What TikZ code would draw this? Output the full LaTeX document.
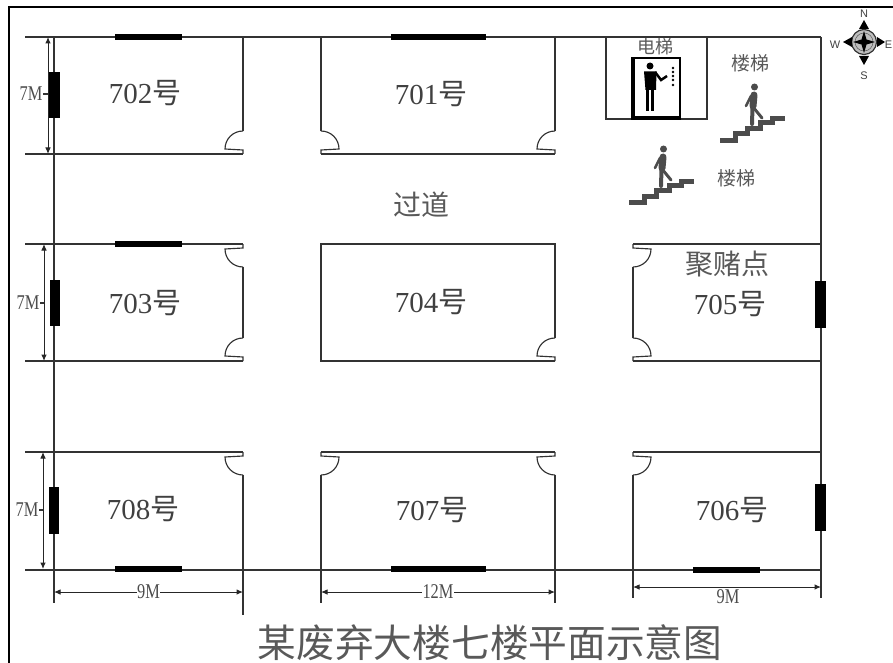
\documentclass[tikz,border=0pt]{standalone}
\usepackage{fontspec}
\usetikzlibrary{arrows.meta}
\setmainfont{Liberation Serif}
\setsansfont{Liberation Sans}
\newfontfamily\cjk{Noto Sans CJK SC}
\newcommand{\narrowtext}[1]{\scalebox{0.78}[1]{#1}}
\tikzset{
    wall/.style={line width=1.15pt, draw=black!80},
    dimline/.style={line width=1pt, draw=black!85, {Latex[length=6.5pt,width=5.5pt]}-{Latex[length=6.5pt,width=5.5pt]}},
    room/.style={font=\fontsize{29}{29}\selectfont, text=black!75, inner sep=0pt},
    small/.style={font=\fontsize{21}{21}\selectfont, text=black!70, inner sep=0.5pt},
    cjklabel/.style={font=\cjk\fontsize{19}{19}\selectfont, text=black!65, inner sep=0pt},
    compass/.style={font=\sffamily\fontsize{11}{11}\selectfont, inner sep=0pt, text=black!75},
    door/.pic={\draw[wall] (0,-23) .. controls (-10,-23) and (-18,-15) .. (-18,-5) -- (0,-4) -- (0,0);},
    stairman/.pic={
        \draw[black!70, line width=5pt, line join=miter]
            (0,-2.5) -- (15,-2.5) -- (15,-9) -- (27,-9) -- (27,-14.5) -- (40,-14.5) -- (40,-20) -- (52,-20) -- (52,-24) -- (65,-24);
        \fill[black!70] (34.5,-56) circle (3.5);
        \draw[black!70, line width=7pt, line cap=round] (34,-48) -- (33,-37);
        \draw[black!70, line width=4pt, line cap=round] (32.5,-36) -- (32,-19);
        \draw[black!70, line width=3pt, line cap=round] (33,-36) -- (42,-25);
        \draw[black!70, line width=2.5pt, line cap=round] (31,-47) -- (26,-37);
    }
}

\begin{document}
\begin{tikzpicture}[x=1pt, y=-1pt]
    \useasboundingbox (0,0) rectangle (893,663);
    % frame
    \draw[line width=2.4pt] (9,663) -- (9,7) -- (893,7);

    % long walls
    \draw[wall] (25,37) -- (821,37);
    \draw[wall] (54,37) -- (54,603);
    \draw[wall] (821,37) -- (821,598);
    \draw[wall] (25,570) -- (821,570);

    % top row
    \draw[wall] (25,154) -- (243,154);
    \draw[wall] (243,37) -- (243,131);
    \draw[wall] (321,37) -- (321,131);
    \draw[wall] (555,37) -- (555,131);
    \draw[wall] (321,154) -- (555,154);
    \pic at (243,154) {door};
    \pic at (555,154) {door};
    \pic[xscale=-1] at (321,154) {door};

    % middle row
    \draw[wall] (25,244) -- (243,244);
    \draw[wall] (25,361) -- (243,361);
    \draw[wall] (243,267) -- (243,338);
    \pic at (243,361) {door};
    \pic[yscale=-1] at (243,244) {door};
    \draw[wall] (555,338) -- (555,244) -- (321,244) -- (321,361) -- (555,361);
    \pic at (555,361) {door};
    \draw[wall] (633,244) -- (821,244);
    \draw[wall] (633,361) -- (821,361);
    \draw[wall] (633,267) -- (633,338);
    \pic[xscale=-1] at (633,361) {door};
    \pic[xscale=-1, yscale=-1] at (633,244) {door};

    % bottom row
    \draw[wall] (25,452) -- (243,452);
    \draw[wall] (243,475) -- (243,615);
    \pic[yscale=-1] at (243,452) {door};
    \draw[wall] (321,452) -- (555,452);
    \draw[wall] (321,475) -- (321,603);
    \draw[wall] (555,475) -- (555,603);
    \pic[xscale=-1, yscale=-1] at (321,452) {door};
    \pic[yscale=-1] at (555,452) {door};
    \draw[wall] (633,452) -- (821,452);
    \draw[wall] (633,475) -- (633,598);
    \pic[xscale=-1, yscale=-1] at (633,452) {door};

    % windows
    \foreach \xa/\ya/\xb/\yb in {115/34/182/40, 391/34/486/40, 115/241/182/247, 693/567/760/573,
        115/566/182/572, 391/566/486/572, 49/72/60/118, 50/280/60/326, 49/487/59/534,
        815/281/826/328, 815/484/826/531}
        \fill[black] (\xa,\ya) rectangle (\xb,\yb);

    % room names
    \node[room] (r702) at (145,93) {702{\cjk 号}};
    \node[room] (r701) at (431,94) {701{\cjk 号}};
    \node[room] (r703) at (145,303) {703{\cjk 号}};
    \node[room] (r704) at (431,302) {704{\cjk 号}};
    \node[room] (r705) at (730,304) {705{\cjk 号}};
    \node[room] (r708) at (143,509) {708{\cjk 号}};
    \node[room] (r707) at (432,510) {707{\cjk 号}};
    \node[room] (r706) at (732,510) {706{\cjk 号}};
    \node[cjklabel, font=\cjk\fontsize{28}{28}\selectfont] (pass) at (421,205) {过道};
    \node[cjklabel, font=\cjk\fontsize{28}{28}\selectfont] (gamble) at (727,264) {聚赌点};
    \node[cjklabel, font=\cjk\fontsize{18}{18}\selectfont] (lift) at (655,47) {电梯};
    \node[cjklabel] (stair1) at (750,63) {楼梯};
    \node[cjklabel] (stair2) at (736,178) {楼梯};
    \node[cjklabel, font=\cjk\fontsize{38.7}{39}\selectfont] (title) at (490,643) {某废弃大楼七楼平面示意图};

    % heights
    \draw[dimline] (48,37) -- (48,154);
    \node[small] (h702) at (31,94) {\narrowtext{7M}};
    \draw[wall] (h702) -- (48,94);
    \draw[dimline] (44,244) -- (44,361);
    \node[small] (h703) at (28,303) {\narrowtext{7M}};
    \draw[wall] (h703) -- (44,303);
    \draw[dimline] (43,452) -- (43,569);
    \node[small] (h708) at (27,510) {\narrowtext{7M}};
    \draw[wall] (h708) -- (43,510);

    % widths
    \draw[dimline] (54,592) -- node[small, fill=white] (w708) {\narrowtext{9M}} (243,592);
    \draw[dimline] (321,592) -- node[small, fill=white] (w707) {\narrowtext{12M}} (555,592);
    \draw[dimline] (633,587) -- (821,587);
    \node[small, fill=white] (w706) at (728,597) {\narrowtext{9M}};

    % lift
    \draw[wall] (606,37) -- (606,119) -- (707,119) -- (707,37);
    \fill[white] (632,58) rectangle (680,119);
    \draw[black, line width=1.5pt] (632,58) rectangle (680,119);
    \fill[black] (631,57) rectangle (635,120);
    \fill[black] (631,116) rectangle (681,120);
    \fill[black] (650,66) circle (3.5);
    \fill[black] (644,71.5) -- (656.5,71.5) -- (656,90) -- (645.5,90) -- cycle;
    \draw[black, line width=3.5pt] (647.5,88) -- (647.5,111);
    \draw[black, line width=3.5pt] (652.5,88) -- (652.5,111);
    \draw[black, line width=2.5pt] (655,72) -- (661,80) -- (667,76);
    \foreach \dy in {68,72,76,80,85}
        \fill[black] (673,\dy) circle (1.3);

    % stairs
    \pic at (720,143) {stairman};
    \pic at (629,205) {stairman};

    % compass
    \draw[black!80, fill=black!25, line width=1.2pt] (864,42) circle (12.5);
    \draw[black!60, line width=0.6pt] (864,42) circle (9);
    \fill[black] (864,31) -- (866.5,39.5) -- (875,42) -- (866.5,44.5) -- (864,53) -- (861.5,44.5) -- (853,42) -- (861.5,39.5) -- cycle;
    \fill[black] (864,20) -- (869,29) -- (859,29) -- cycle;
    \fill[black] (864,65) -- (869,56) -- (859,56) -- cycle;
    \fill[black] (843,42) -- (852,37) -- (852,47) -- cycle;
    \fill[black] (885,42) -- (877,37) -- (877,47) -- cycle;
    \node[compass] (north) at (864,14) {N};
    \node[compass] (south) at (864,76) {S};
    \node[compass] (west) at (835,45) {W};
    \node[compass] (east) at (888.5,45) {E};
\end{tikzpicture}
\end{document}
